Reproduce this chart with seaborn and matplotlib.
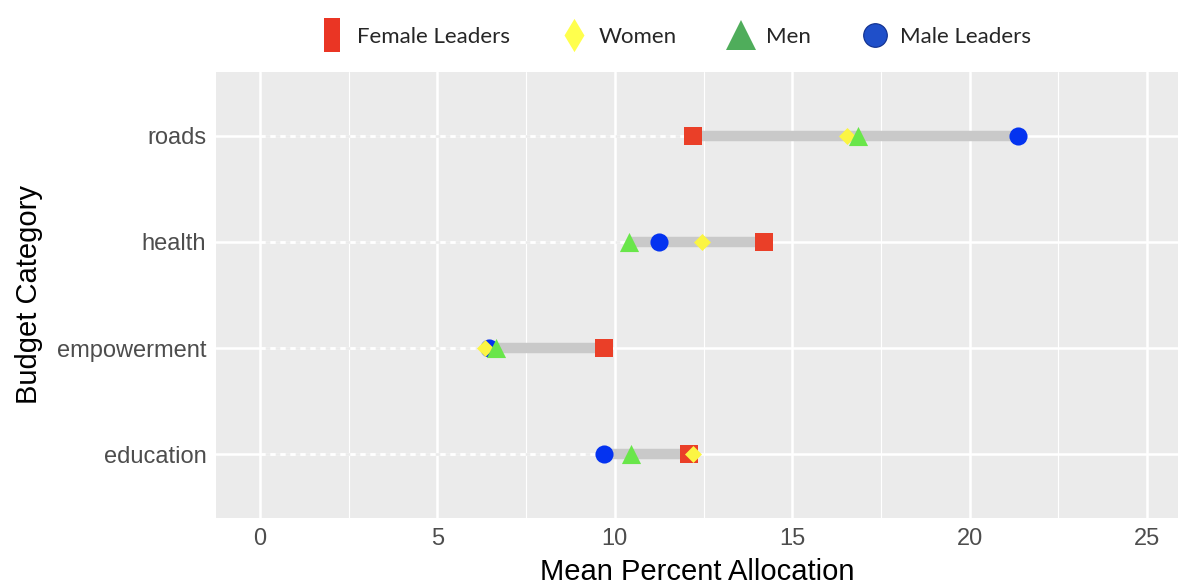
import numpy as np
import pandas as pd
import matplotlib
matplotlib.use("Agg")
import matplotlib.pyplot as plt
from matplotlib.lines import Line2D
from matplotlib.ticker import MultipleLocator
import seaborn as sns

# data
categories = ["education", "empowerment", "health", "roads"]
female_leaders = [12.1, 9.7, 14.2, 12.2]
male_leaders = [9.7, 6.45, 11.25, 21.35]
women = [12.2, 6.35, 12.45, 16.55]
men = [10.45, 6.65, 10.4, 16.85]

groups = ["Female Leaders", "Male Leaders", "Women", "Men"]
colors = {"Female Leaders": "#EA3F28", "Male Leaders": "#0433F0",
          "Women": "#FBF543", "Men": "#69E64A"}
markers = {"Female Leaders": "s", "Male Leaders": "o", "Women": "D", "Men": "^"}
sizes = {"Female Leaders": 150, "Male Leaders": 170, "Women": 75, "Men": 190}

df = pd.DataFrame({
    "category": categories * 4,
    "value": female_leaders + male_leaders + women + men,
    "group": np.repeat(groups, len(categories)),
})
df["pos"] = df["category"].map({c: i + 1 for i, c in enumerate(categories)})

sns.set_style("darkgrid", {"axes.facecolor": "#EBEBEB", "grid.color": "white"})
plt.rcParams["font.family"] = ["Liberation Sans", "DejaVu Sans"]

fig = plt.figure(figsize=(11.78, 5.85), dpi=100)
ax = fig.add_axes([216 / 1178, 1 - 518 / 585, 1 - 216 / 1178, (518 - 72) / 585])

# ranges per category
rng = df.groupby("pos")["value"].agg(["min", "max"]).reset_index()
for _, r in rng.iterrows():
    # dotted lead-in from zero (over the white gridline)
    ax.plot([0, r["min"]], [r["pos"], r["pos"]], color="white", lw=1.8,
            ls=(0, (2.0, 2.0)), gapcolor="#EBEBEB", zorder=2)
ax.hlines(rng["pos"], rng["min"], rng["max"], color="#C9C9C9", lw=7.5, zorder=2)

for g in groups:
    sub = df[df["group"] == g]
    sns.scatterplot(data=sub, x="value", y="pos", marker=markers[g],
                    color=colors[g], s=sizes[g], linewidth=0, ax=ax,
                    zorder=3, legend=False)

ax.set_xlim(-1.24, 25.87)
ax.set_ylim(0.4, 4.6)
ax.set_yticks(range(1, len(categories) + 1))
ax.set_yticklabels(categories)
ax.xaxis.set_major_locator(MultipleLocator(5))
ax.xaxis.set_minor_locator(MultipleLocator(2.5))
ax.grid(which="major", color="white", lw=1.8)
ax.grid(which="minor", axis="x", color="white", lw=0.8)
ax.set_axisbelow(True)
for s in ax.spines.values():
    s.set_visible(False)

ax.tick_params(axis="both", which="major", length=4, width=1.2, color="#333333",
               labelsize=17, labelcolor="#4D4D4D", pad=3)
ax.tick_params(axis="both", which="minor", length=0)
ax.set_xlabel("Mean Percent Allocation", fontsize=21, color="black", labelpad=6)
ax.set_ylabel("Budget Category", fontsize=21, color="black", labelpad=10)

# legend on top
rect = [(-0.5, -1), (0.5, -1), (0.5, 1), (-0.5, 1)]
tall_diamond = [(0, -1), (0.6, 0), (0, 1), (-0.6, 0)]
handles = [
    Line2D([], [], ls="none", marker=rect, markersize=24, color="#EA3524",
           markeredgewidth=0, label="Female Leaders"),
    Line2D([], [], ls="none", marker=tall_diamond, markersize=24, color="#FFFF4D",
           markeredgewidth=0, label="Women"),
    Line2D([], [], ls="none", marker="^", markersize=22, color="#4FAD5B",
           markeredgewidth=0, label="Men"),
    Line2D([], [], ls="none", marker="o", markersize=17, color="#1F4FC9",
           markeredgecolor="#0F2E8C", markeredgewidth=0.8, label="Male Leaders"),
]
fig.legend(handles=handles, loc="center", bbox_to_anchor=(676 / 1178, 1 - 37 / 585),
           ncol=4, frameon=False, handlelength=1.0, handletextpad=0.6,
           columnspacing=2.4, prop={"family": "Lato", "size": 16})

fig.savefig("out.png", dpi=100)
